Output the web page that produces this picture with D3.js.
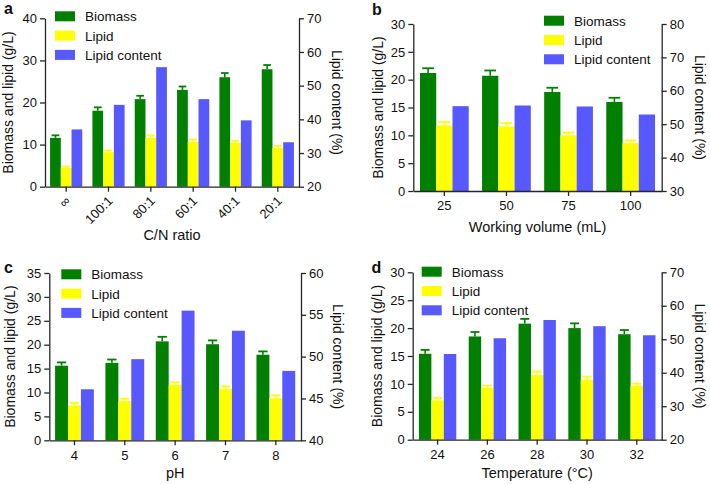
<!DOCTYPE html>
<html>
<head>
<meta charset="utf-8">
<script src="https://cdn.jsdelivr.net/npm/d3@7"></script>
<style>
  body { margin: 0; background: #fff; }
  svg { display: block; font-family: "Liberation Sans", Arial, sans-serif; }
</style>
</head>
<body>
<svg id="chart" width="710" height="484"></svg>
<script>
// values (g/L for biomass & lipid, % for lipid content)
const seriesNames = ['Biomass', 'Lipid', 'Lipid content'];
const seriesColors = ['#007f00', '#ffff00', '#5858ff'];

const cnLabels = ['\u221e', '100:1', '80:1', '60:1', '40:1', '20:1'];
const cnBiomass = [11.6, 18.05, 20.8, 23.0, 26.0, 27.9];
const cnBiomassErr = [0.6, 0.8, 0.8, 0.8, 1.0, 1.0];
const cnLipid = [4.5, 8.2, 11.6, 10.6, 10.4, 9.2];
const cnLipidErr = [0.3, 0.4, 0.6, 0.6, 0.5, 0.5];
const cnContent = [37.0, 44.3, 55.5, 46.0, 39.7, 33.2];

const wvLabels = ['25', '50', '75', '100'];
const wvBiomass = [21.2, 20.7, 17.8, 16.0];
const wvBiomassErr = [0.85, 0.95, 0.75, 0.75];
const wvLipid = [11.8, 11.6, 10.0, 8.6];
const wvLipidErr = [0.6, 0.6, 0.5, 0.5];
const wvContent = [55.4, 55.6, 55.3, 52.9];

const phLabels = ['4', '5', '6', '7', '8'];
const phBiomass = [15.6, 16.2, 20.7, 20.1, 17.9];
const phBiomassErr = [0.7, 0.7, 0.95, 0.8, 0.7];
const phLipid = [7.3, 8.2, 11.6, 10.7, 8.8];
const phLipidErr = [0.5, 0.5, 0.5, 0.6, 0.6];
const phContent = [46.1, 49.7, 55.5, 53.1, 48.3];

const tLabels = ['24', '26', '28', '30', '32'];
const tBiomass = [15.4, 18.5, 20.8, 20.0, 18.9];
const tBiomassErr = [0.7, 0.8, 0.85, 0.85, 0.75];
const tLipid = [7.05, 9.3, 11.6, 10.75, 9.7];
const tLipidErr = [0.45, 0.4, 0.6, 0.55, 0.35];
const tContent = [45.6, 50.3, 55.75, 53.9, 51.2];

const svg = d3.select('#chart');
const axisColor = '#262626';

function drawPanel(p) {
  const g = svg.append('g');
  const x = d3.scaleBand().domain(p.labels).range([p.x0, p.x1])
    .paddingInner(p.pad).paddingOuter(p.pad / 2);
  const xs = d3.scaleBand().domain(seriesNames).range([0, x.bandwidth()]);
  const yL = d3.scaleLinear().domain(p.leftDomain).range([p.y1, p.y0]);
  const yR = d3.scaleLinear().domain(p.rightDomain).range([p.y1, p.y0]);

  const rows = p.labels.map((lab, i) => ({
    lab,
    vals: [
      { s: seriesNames[0], v: p.biomass[i], e: p.biomassErr[i], y: yL, c: seriesColors[0] },
      { s: seriesNames[1], v: p.lipid[i], e: p.lipidErr[i], y: yL, c: seriesColors[1] },
      { s: seriesNames[2], v: p.content[i], e: 0, y: yR, c: seriesColors[2] },
    ],
  }));

  const grp = g.selectAll('g.grp').data(rows).enter().append('g')
    .attr('transform', (d) => `translate(${x(d.lab)},0)`);

  // error bars first (upper half only), then bars on top
  grp.selectAll('g.err').data((d) => d.vals.filter((v) => v.e > 0)).enter()
    .append('g').each(function (d) {
      const cx = xs(d.s) + xs.bandwidth() / 2;
      const half = xs.bandwidth() * 0.36;
      const top = d.y(d.v + d.e);
      const e = d3.select(this);
      e.append('line').attr('x1', cx).attr('x2', cx)
        .attr('y1', d.y(d.v)).attr('y2', top)
        .attr('stroke', d.c).attr('stroke-width', 1.6);
      e.append('line').attr('x1', cx - half).attr('x2', cx + half)
        .attr('y1', top).attr('y2', top)
        .attr('stroke', d.c).attr('stroke-width', 1.8);
    });

  grp.selectAll('rect').data((d) => d.vals).enter().append('rect')
    .attr('x', (d) => xs(d.s))
    .attr('width', xs.bandwidth())
    .attr('y', (d) => d.y(d.v))
    .attr('height', (d) => d.y.range()[0] - d.y(d.v))
    .attr('fill', (d) => d.c);

  // axes
  const fs = 13;
  const left = g.append('g').attr('transform', `translate(${p.x0},0)`)
    .call(d3.axisLeft(yL).tickValues(d3.range(p.leftDomain[0], p.leftDomain[1] + 0.01, p.leftStep))
      .tickSize(5).tickPadding(3).tickSizeOuter(0));
  const right = g.append('g').attr('transform', `translate(${p.x1},0)`)
    .call(d3.axisRight(yR).tickValues(d3.range(p.rightDomain[0], p.rightDomain[1] + 0.01, p.rightStep))
      .tickSize(5).tickPadding(3).tickSizeOuter(0));
  const bottom = g.append('g').attr('transform', `translate(0,${p.y1})`)
    .call(d3.axisBottom(x).tickSize(5).tickPadding(5).tickSizeOuter(0));

  [left, right, bottom].forEach((a) => {
    a.select('.domain').attr('stroke', axisColor).attr('stroke-width', 1.3);
    a.selectAll('.tick line').attr('stroke', axisColor).attr('stroke-width', 1.3);
    a.selectAll('.tick text').attr('fill', '#111').style('font-size', fs + 'px')
      .style('font-family', '"Liberation Sans", Arial, sans-serif');
  });

  if (p.rotateTicks) {
    bottom.selectAll('.tick text')
      .attr('text-anchor', 'end')
      .attr('dy', null)
      .attr('y', 0)
      .attr('transform', 'translate(5,15) rotate(-45)');
  }

  // axis titles
  const yMid = (p.y0 + p.y1) / 2;
  g.append('text').attr('transform', `translate(${p.leftTitleX},${yMid}) rotate(-90)`)
    .attr('text-anchor', 'middle').style('font-size', '14px').attr('fill', '#111')
    .text('Biomass and lipid (g/L)');
  g.append('text').attr('transform', `translate(${p.rightTitleX},${yMid}) rotate(90)`)
    .attr('text-anchor', 'middle').style('font-size', '14px').attr('fill', '#111')
    .text('Lipid content (%)');
  g.append('text').attr('x', (p.x0 + p.x1) / 2).attr('y', p.xTitleY)
    .attr('text-anchor', 'middle').style('font-size', '14.5px').attr('fill', '#111')
    .text(p.xTitle);

  // panel letter
  g.append('text').attr('x', p.letterX).attr('y', p.letterY)
    .style('font-size', '16px').style('font-weight', 'bold').attr('fill', '#111')
    .text(p.letter);

  // legend
  const leg = g.append('g').attr('transform', `translate(${p.legX},${p.legY})`);
  const item = leg.selectAll('g').data(seriesNames).enter().append('g')
    .attr('transform', (d, i) => `translate(0,${i * 19.3})`);
  item.append('rect').attr('x', 0).attr('y', -5).attr('width', 20).attr('height', 10)
    .attr('fill', (d, i) => seriesColors[i]);
  item.append('text').attr('x', 30).attr('y', 5).style('font-size', '13.5px')
    .attr('fill', '#111').text((d) => d);
}

drawPanel({
  letter: 'a', letterX: 4, letterY: 14,
  labels: cnLabels, biomass: cnBiomass, biomassErr: cnBiomassErr,
  lipid: cnLipid, lipidErr: cnLipidErr, content: cnContent,
  x0: 45, x1: 299, y0: 18.3, y1: 186.7, pad: 0.24,
  leftDomain: [0, 40], leftStep: 10, rightDomain: [20, 70], rightStep: 10,
  leftTitleX: 13, rightTitleX: 332, xTitle: 'C/N ratio', xTitleY: 240,
  rotateTicks: true, legX: 55, legY: 16.3,
});

drawPanel({
  letter: 'b', letterX: 372, letterY: 15,
  labels: wvLabels, biomass: wvBiomass, biomassErr: wvBiomassErr,
  lipid: wvLipid, lipidErr: wvLipidErr, content: wvContent,
  x0: 413.3, x1: 661.7, y0: 24, y1: 191, pad: 0.215,
  leftDomain: [0, 30], leftStep: 5, rightDomain: [30, 80], rightStep: 10,
  leftTitleX: 383, rightTitleX: 695, xTitle: 'Working volume (mL)', xTitleY: 232,
  rotateTicks: false, legX: 544, legY: 20.7,
});

drawPanel({
  letter: 'c', letterX: 4, letterY: 273,
  labels: phLabels, biomass: phBiomass, biomassErr: phBiomassErr,
  lipid: phLipid, lipidErr: phLipidErr, content: phContent,
  x0: 49.3, x1: 301, y0: 273, y1: 440.3, pad: 0.23,
  leftDomain: [0, 35], leftStep: 5, rightDomain: [40, 60], rightStep: 5,
  leftTitleX: 15, rightTitleX: 333, xTitle: 'pH', xTitleY: 478,
  rotateTicks: false, legX: 61.3, legY: 274.3,
});

drawPanel({
  letter: 'd', letterX: 371.5, letterY: 273,
  labels: tLabels, biomass: tBiomass, biomassErr: tBiomassErr,
  lipid: tLipid, lipidErr: tLipidErr, content: tContent,
  x0: 412.7, x1: 661.7, y0: 272.3, y1: 439.7, pad: 0.25,
  leftDomain: [0, 30], leftStep: 5, rightDomain: [20, 70], rightStep: 10,
  leftTitleX: 381.5, rightTitleX: 695, xTitle: 'Temperature (\u00b0C)', xTitleY: 478,
  rotateTicks: false, legX: 421.7, legY: 271.7,
});
</script>
</body>
</html>
